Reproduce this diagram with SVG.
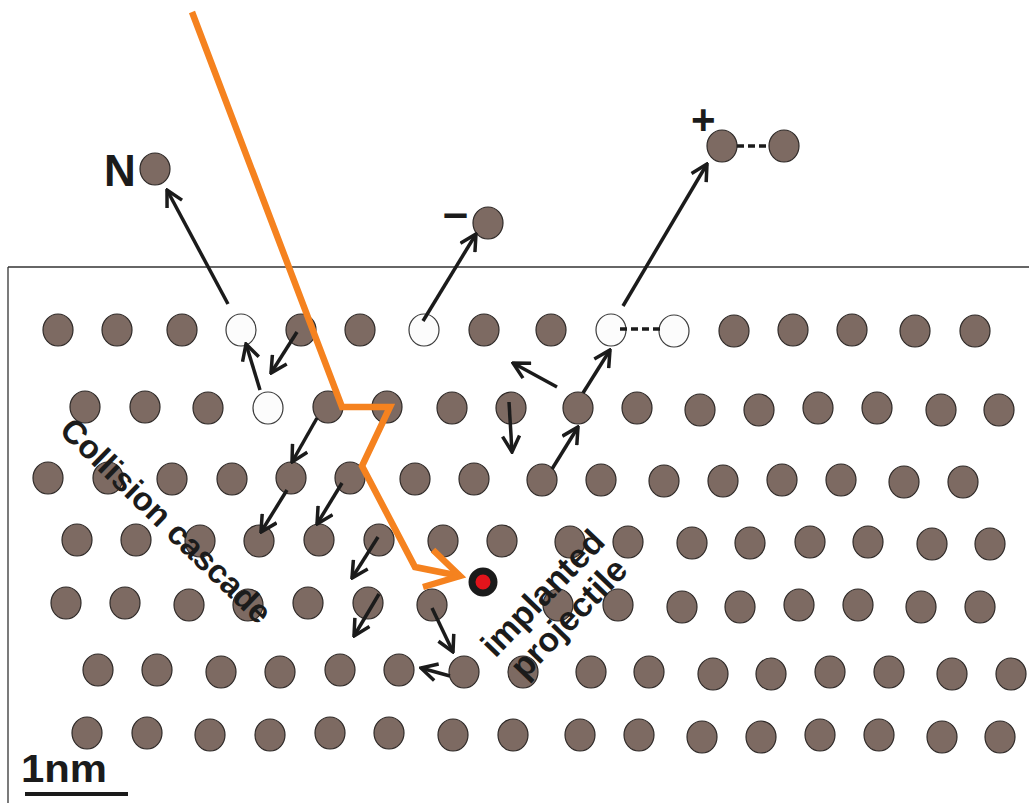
<svg xmlns="http://www.w3.org/2000/svg" width="1029" height="803" viewBox="0 0 1029 803">
  <defs>
    <style>
      .atom { fill: #7d6a62; stroke: #2f2a28; stroke-width: 1.2; }
      .vac { fill: #fcfcfc; stroke: #3c3c3c; stroke-width: 1.2; }
      .frame { stroke: #333; stroke-width: 1.3; fill: none; }
      .move { stroke: #1b1b1b; stroke-width: 3.5; fill: none; marker-end: url(#head); }
      .bond { stroke: #1b1b1b; stroke-width: 3.5; stroke-dasharray: 7 4; fill: none; }
      .track { stroke: #f5821f; stroke-width: 6.5; fill: none; stroke-linejoin: miter; stroke-miterlimit: 10; }
      .lbl { font-family: "Liberation Sans", Arial, sans-serif; font-weight: bold; fill: #1b1b1b; }
    </style>
    <marker id="head" viewBox="0 0 20 20" refX="18" refY="10" markerWidth="20" markerHeight="20" markerUnits="userSpaceOnUse" orient="auto">
      <path d="M2,1.5 L18,10 L2,18.5" fill="none" stroke="#1b1b1b" stroke-width="3.5"/>
    </marker>
    <ellipse id="a" rx="15" ry="16" class="atom"/>
    <ellipse id="v" rx="15" ry="16" class="vac"/>
  </defs>

  <!-- crystal surface and side wall -->
  <g id="surface">
    <line class="frame" x1="8" y1="267" x2="1029" y2="267"/>
    <line class="frame" x1="8" y1="267" x2="8" y2="803"/>
  </g>

  <!-- lattice, row by row -->
  <g id="row1">
    <use href="#a" x="58" y="330"/><use href="#a" x="117" y="330"/><use href="#a" x="182" y="330"/>
    <use href="#v" x="241" y="330"/><use href="#a" x="301" y="330"/><use href="#a" x="360" y="330"/>
    <use href="#v" x="424" y="330"/><use href="#a" x="484" y="330"/><use href="#a" x="551" y="330"/>
    <use href="#v" x="611" y="330"/><use href="#v" x="674" y="331"/><use href="#a" x="734" y="331"/>
    <use href="#a" x="793" y="330"/><use href="#a" x="852" y="330"/><use href="#a" x="915" y="331"/>
    <use href="#a" x="975" y="331"/>
  </g>
  <g id="row2">
    <use href="#a" x="85" y="407"/><use href="#a" x="145" y="407"/><use href="#a" x="208" y="408"/>
    <use href="#v" x="268" y="408"/><use href="#a" x="328" y="407"/><use href="#a" x="387" y="407"/>
    <use href="#a" x="452" y="408"/><use href="#a" x="511" y="408"/><use href="#a" x="578" y="408"/>
    <use href="#a" x="637" y="408"/><use href="#a" x="700" y="410"/><use href="#a" x="759" y="410"/>
    <use href="#a" x="818" y="408"/><use href="#a" x="877" y="408"/><use href="#a" x="941" y="410"/>
    <use href="#a" x="999" y="410"/>
  </g>
  <g id="row3">
    <use href="#a" x="48" y="478"/><use href="#a" x="108" y="478"/><use href="#a" x="172" y="479"/>
    <use href="#a" x="232" y="479"/><use href="#a" x="291" y="478"/><use href="#a" x="350" y="478"/>
    <use href="#a" x="415" y="479"/><use href="#a" x="474" y="479"/><use href="#a" x="542" y="480"/>
    <use href="#a" x="601" y="480"/><use href="#a" x="664" y="481"/><use href="#a" x="723" y="481"/>
    <use href="#a" x="782" y="480"/><use href="#a" x="841" y="480"/><use href="#a" x="904" y="482"/>
    <use href="#a" x="963" y="482"/>
  </g>
  <g id="row4">
    <use href="#a" x="77" y="540"/><use href="#a" x="136" y="540"/><use href="#a" x="200" y="541"/>
    <use href="#a" x="259" y="541"/><use href="#a" x="319" y="540"/><use href="#a" x="379" y="540"/>
    <use href="#a" x="443" y="541"/><use href="#a" x="502" y="541"/><use href="#a" x="570" y="542"/>
    <use href="#a" x="628" y="542"/><use href="#a" x="692" y="543"/><use href="#a" x="750" y="543"/>
    <use href="#a" x="810" y="542"/><use href="#a" x="868" y="542"/><use href="#a" x="932" y="544"/>
    <use href="#a" x="990" y="544"/>
  </g>
  <g id="row5">
    <use href="#a" x="66" y="603"/><use href="#a" x="125" y="603"/><use href="#a" x="189" y="605"/>
    <use href="#a" x="248" y="605"/><use href="#a" x="308" y="603"/><use href="#a" x="368" y="603"/>
    <use href="#a" x="432" y="605"/><use href="#a" x="558" y="605"/><use href="#a" x="618" y="605"/>
    <use href="#a" x="682" y="607"/><use href="#a" x="740" y="607"/><use href="#a" x="799" y="605"/>
    <use href="#a" x="858" y="605"/><use href="#a" x="921" y="607"/><use href="#a" x="980" y="607"/>
  </g>
  <g id="row6">
    <use href="#a" x="98" y="670"/><use href="#a" x="157" y="670"/><use href="#a" x="221" y="672"/>
    <use href="#a" x="280" y="672"/><use href="#a" x="340" y="670"/><use href="#a" x="399" y="670"/>
    <use href="#a" x="464" y="672"/><use href="#a" x="523" y="672"/><use href="#a" x="591" y="672"/>
    <use href="#a" x="649" y="672"/><use href="#a" x="713" y="674"/><use href="#a" x="771" y="674"/>
    <use href="#a" x="830" y="672"/><use href="#a" x="889" y="672"/><use href="#a" x="952" y="674"/>
    <use href="#a" x="1011" y="674"/>
  </g>
  <g id="row7">
    <use href="#a" x="87" y="733"/><use href="#a" x="147" y="733"/><use href="#a" x="210" y="735"/>
    <use href="#a" x="270" y="735"/><use href="#a" x="330" y="733"/><use href="#a" x="389" y="733"/>
    <use href="#a" x="453" y="735"/><use href="#a" x="513" y="735"/><use href="#a" x="580" y="735"/>
    <use href="#a" x="639" y="735"/><use href="#a" x="702" y="737"/><use href="#a" x="761" y="737"/>
    <use href="#a" x="820" y="735"/><use href="#a" x="879" y="735"/><use href="#a" x="942" y="737"/>
    <use href="#a" x="1000" y="737"/>
  </g>

  <!-- sputtered particles above the surface -->
  <g id="neutral">
    <use href="#a" x="155" y="169"/>
    <text class="lbl" x="104" y="186" font-size="44">N</text>
  </g>
  <g id="anion">
    <use href="#a" x="488" y="223"/>
    <text class="lbl" x="443" y="228" font-size="45">–</text>
  </g>
  <g id="cation">
    <use href="#a" x="722" y="146"/>
    <use href="#a" x="784" y="146"/>
    <text class="lbl" x="691" y="134" font-size="42">+</text>
  </g>

  <!-- bonds of the ejected dimer and its former sites -->
  <g id="bonds">
    <line class="bond" x1="737" y1="146" x2="770" y2="146"/>
    <line class="bond" x1="620" y1="329" x2="662" y2="329"/>
  </g>

  <!-- recoil directions -->
  <g id="connectors">
    <line class="move" x1="228" y1="304" x2="167" y2="190"/>
    <line class="move" x1="260" y1="390" x2="246" y2="344"/>
    <line class="move" x1="297" y1="332" x2="271" y2="373"/>
    <line class="move" x1="423" y1="321" x2="476" y2="234"/>
    <line class="move" x1="623" y1="306" x2="707" y2="164"/>
    <line class="move" x1="583" y1="393" x2="610" y2="350"/>
    <line class="move" x1="552" y1="469" x2="578" y2="427"/>
    <line class="move" x1="557" y1="387" x2="513" y2="363"/>
    <line class="move" x1="509" y1="402" x2="512" y2="452"/>
    <line class="move" x1="317" y1="418" x2="292" y2="462"/>
    <line class="move" x1="287" y1="490" x2="261" y2="532"/>
    <line class="move" x1="342" y1="483" x2="317" y2="524"/>
    <line class="move" x1="378" y1="537" x2="352" y2="578"/>
    <line class="move" x1="379" y1="594" x2="354" y2="636"/>
    <line class="move" x1="432" y1="608" x2="453" y2="652"/>
    <line class="move" x1="450" y1="676" x2="421" y2="668"/>
  </g>

  <!-- projectile track -->
  <g id="projectile-track">
    <polyline class="track" points="192,12 342,407 390,407 362,466 415,567 460,576"/>
    <polyline class="track" points="433,550 460,576 423,587"/>
  </g>

  <!-- implanted projectile -->
  <g id="implant">
    <circle cx="483" cy="582" r="11" fill="#e3141b" stroke="#1b1b1b" stroke-width="7"/>
  </g>

  <!-- labels -->
  <g id="labels">
    <text class="lbl" font-size="33" transform="translate(58 432) rotate(44)">Collision cascade</text>
    <g transform="translate(551 601) rotate(-46)">
      <text class="lbl" font-size="34" text-anchor="middle" x="0" y="0">implanted</text>
      <text class="lbl" font-size="34" text-anchor="middle" x="0" y="36">projectile</text>
    </g>
    <text class="lbl" x="21" y="782" font-size="39" textLength="86" lengthAdjust="spacingAndGlyphs">1nm</text>
    <line x1="25" y1="794" x2="128" y2="794" stroke="#1b1b1b" stroke-width="4"/>
  </g>
</svg>
